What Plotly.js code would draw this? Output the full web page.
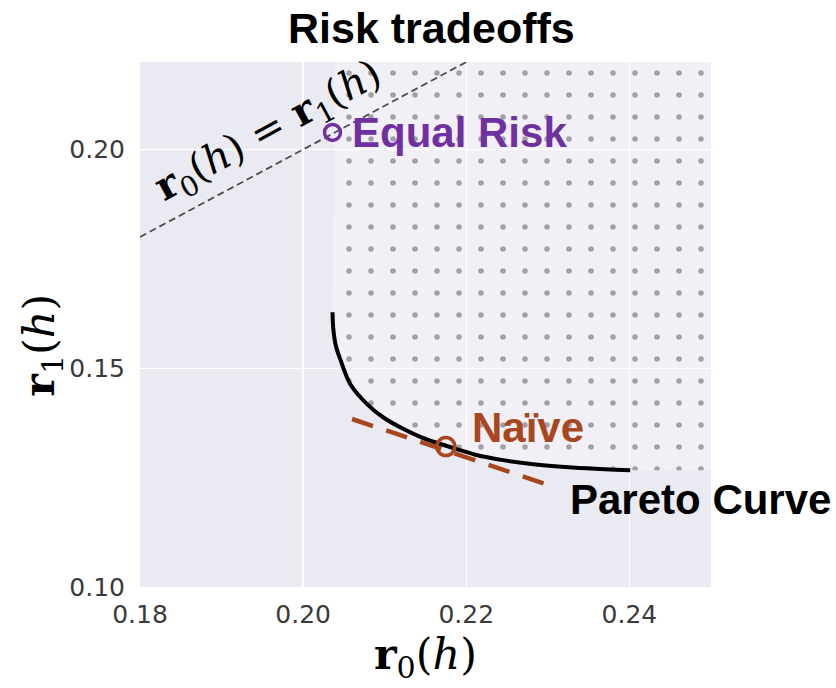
<!DOCTYPE html>
<html>
<head>
<meta charset="utf-8">
<script src="https://cdn.plot.ly/plotly-3.0.1.min.js"></script>
<style>html,body{margin:0;padding:0;background:#fff;}#chart{width:836px;height:688px;}</style>
</head>
<body>
<div id="chart"></div>
<script>
// ---- data ----
const xRange = [0.18, 0.25];
const yRange = [0.10, 0.22];
const xTicks = [0.18, 0.20, 0.22, 0.24];
const xTickLabels = ["0.18", "0.20", "0.22", "0.24"];
const yTicks = [0.10, 0.15, 0.20];
const yTickLabels = ["0.10", "0.15", "0.20"];

// Pareto curve
const paretoX = [0.2036, 0.2037, 0.2040, 0.2046, 0.2058, 0.2079, 0.2098, 0.2119, 0.2145, 0.2160, 0.2180, 0.2210, 0.2245, 0.2285, 0.2330, 0.2370, 0.2401];
const paretoY = [0.1628, 0.1590, 0.1552, 0.1518, 0.1463, 0.1417, 0.1388, 0.1365, 0.1342, 0.1332, 0.1320, 0.1303, 0.1290, 0.1280, 0.1273, 0.1269, 0.1267];

// equal-risk diagonal r0 = r1
const diagX = [0.18, 0.25];
const diagY = [0.18, 0.25];

// tangent at the naive point
const tangentX = [0.2060, 0.2301];
const tangentY = [0.1384, 0.1233];

// highlighted points
const equalRiskX = [0.2036];
const equalRiskY = [0.2039];
const naiveX = [0.2175];
const naiveY = [0.1321];

const purple = "#7030A0";
const rust = "#A8461E";

// feasible (dotted) region: above the Pareto curve, bounded by the axes limits
const regionX = [paretoX[0] + 0.0003].concat(paretoX, [xRange[1], xRange[1], paretoX[0] + 0.0003]);
const regionY = [yRange[1]].concat(paretoY, [paretoY[paretoY.length - 1], yRange[1], yRange[1]]);

const traces = [
  {
    x: regionX, y: regionY, type: "scatter", mode: "lines",
    fill: "toself", line: {width: 0, color: "rgba(0,0,0,0)"},
    fillcolor: "rgba(255,255,255,0.3)",
    fillpattern: {shape: ".", fgcolor: "#a0a0a6", bgcolor: "rgba(255,255,255,0.3)", size: 22, solidity: 0.05},
    hoverinfo: "skip", showlegend: false
  },
  {
    x: diagX, y: diagY, type: "scatter", mode: "lines",
    line: {color: "#4d4d4d", width: 1.8, dash: "7px,4px"},
    showlegend: false
  },
  {
    x: paretoX, y: paretoY, type: "scatter", mode: "lines",
    line: {color: "#000000", width: 4, shape: "spline", smoothing: 1},
    showlegend: false
  },
  {
    x: tangentX, y: tangentY, type: "scatter", mode: "lines",
    line: {color: rust, width: 4.5, dash: "22px,14px"},
    showlegend: false
  },
  {
    x: equalRiskX, y: equalRiskY, type: "scatter", mode: "markers",
    marker: {symbol: "circle-open", size: 16, color: purple, line: {width: 3.5, color: purple}},
    showlegend: false, cliponaxis: false
  },
  {
    x: naiveX, y: naiveY, type: "scatter", mode: "markers",
    marker: {symbol: "circle-open", size: 18, color: rust, line: {width: 3.5, color: rust}},
    showlegend: false, cliponaxis: false
  }
];

const mathFont = {family: "DejaVu Serif", size: 43, color: "#000"};

const layout = {
  width: 836, height: 688,
  margin: {l: 140, r: 125, t: 62, b: 101, pad: 0},
  paper_bgcolor: "#ffffff",
  plot_bgcolor: "#EAEAF2",
  title: {
    text: "<b>Risk tradeoffs</b>",
    font: {family: "Liberation Sans, Arial, sans-serif", size: 43, color: "#000"},
    x: 0.516, xref: "container", xanchor: "center",
    y: 1 - 28 / 688, yref: "container", yanchor: "middle"
  },
  xaxis: {
    range: xRange, tickvals: xTicks, ticktext: xTickLabels,
    showgrid: true, gridcolor: "#ffffff", gridwidth: 1.5,
    zeroline: false, showline: false, ticks: "",
    ticklabelstandoff: 10,
    tickfont: {family: "DejaVu Sans", size: 25, color: "#3a3a3a"},
    title: {text: "<b>r</b><sub>0</sub>(<i>h</i>)", font: mathFont, standoff: 10}
  },
  yaxis: {
    range: yRange, tickvals: yTicks, ticktext: yTickLabels,
    showgrid: true, gridcolor: "#ffffff", gridwidth: 1.5,
    zeroline: false, showline: false, ticks: "",
    ticklabelstandoff: 14,
    tickfont: {family: "DejaVu Sans", size: 25, color: "#3a3a3a"}
  },
  annotations: [
    {
      x: -0.172, y: 0.461, xref: "paper", yref: "paper",
      text: "<b>r</b><sub>1</sub>(<i>h</i>)",
      showarrow: false, textangle: -90,
      font: mathFont,
      xanchor: "center", yanchor: "middle"
    },
    {
      x: 0.1958, y: 0.2042, xref: "x", yref: "y",
      text: "<b>r</b><sub>0</sub>(<i>h</i>) = <b>r</b><sub>1</sub>(<i>h</i>)",
      showarrow: false, textangle: -28.5,
      font: {family: "DejaVu Serif", size: 40, color: "#000"},
      xanchor: "center", yanchor: "middle"
    },
    {
      x: 0.2058, y: 0.2039, xref: "x", yref: "y",
      text: "<b>Equal Risk</b>", showarrow: false,
      font: {family: "Liberation Sans, Arial, sans-serif", size: 42, color: purple},
      xanchor: "left", yanchor: "middle"
    },
    {
      x: 0.2205, y: 0.1365, xref: "x", yref: "y",
      text: "<b>Naïve</b>", showarrow: false,
      font: {family: "Liberation Sans, Arial, sans-serif", size: 42, color: rust},
      xanchor: "left", yanchor: "middle"
    },
    {
      x: 0.2325, y: 0.1199, xref: "x", yref: "y",
      text: "<b>Pareto Curve</b>", showarrow: false,
      font: {family: "Liberation Sans, Arial, sans-serif", size: 42, color: "#000"},
      xanchor: "left", yanchor: "middle"
    }
  ],
  showlegend: false
};

Plotly.newPlot("chart", traces, layout, {displayModeBar: false, staticPlot: true});
</script>
</body>
</html>
